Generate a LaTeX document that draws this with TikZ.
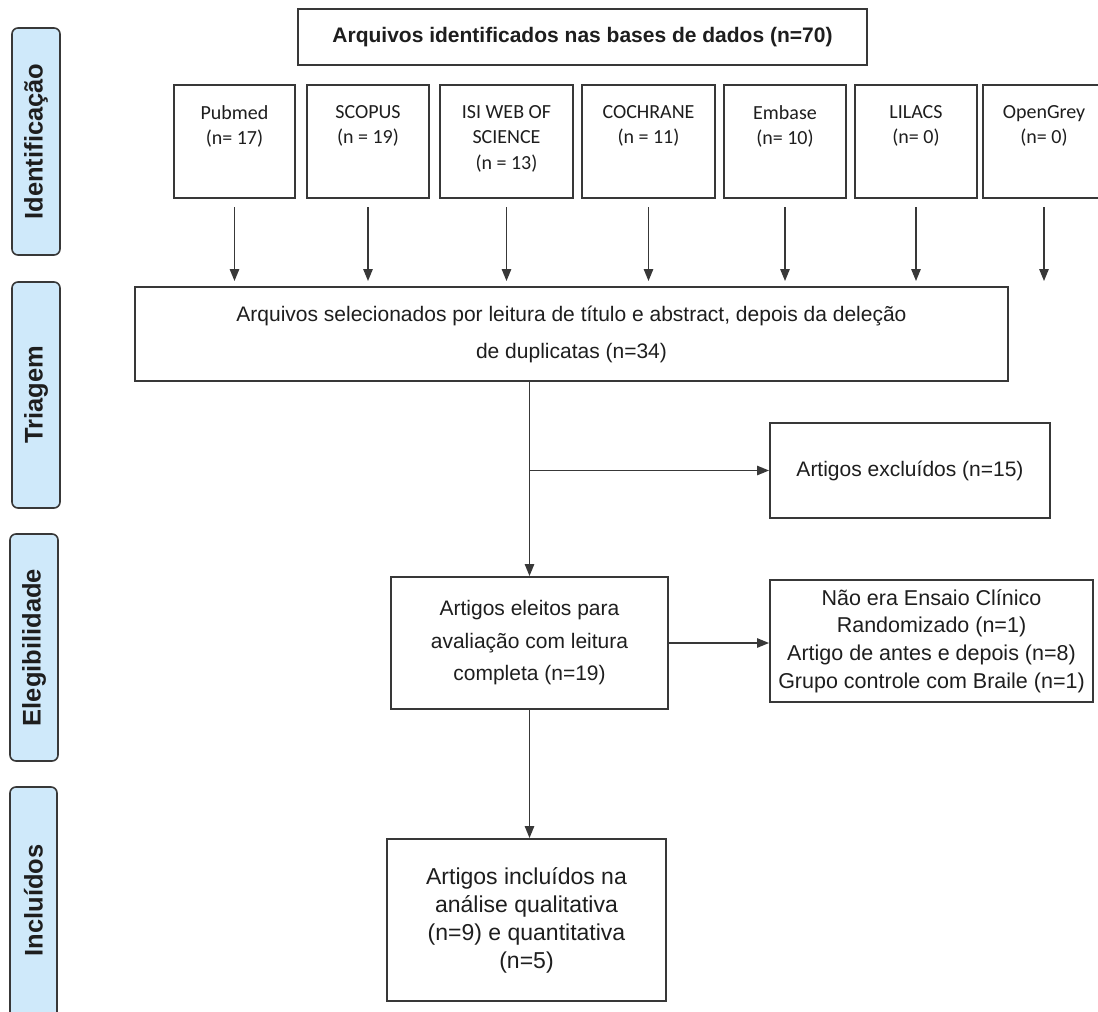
\documentclass[tikz,border=0pt]{standalone}
\usepackage{fontspec}
\setmainfont{Liberation Sans}
\newfontfamily\calib{Carlito}
\usetikzlibrary{arrows.meta}
\definecolor{edge}{HTML}{383838}
\definecolor{phasefill}{HTML}{CFE9FA}
\definecolor{ink}{HTML}{1E1E1E}
\begin{document}
\begin{tikzpicture}[x=1pt,y=-1pt,
  box/.style={draw=edge, line width=2pt, fill=white, inner sep=0pt, align=center, text=ink},
  phase/.style={draw=edge, line width=1.6pt, fill=phasefill, rounded corners=6pt, inner sep=0pt},
  phasetxt/.style={rotate=90, inner sep=0pt, font=\fontsize{25.5}{28}\selectfont\bfseries, text=ink},
  src/.style={draw=edge, line width=2pt, fill=white, inner sep=0pt, minimum height=113pt},
  srctxt/.style={anchor=north, align=center, inner sep=0pt, font=\calib\fontsize{20}{25.5}\selectfont, text=ink},
  arr/.style={draw=edge, line width=1.3pt, -{Triangle[length=12pt,width=9.5pt]}},
  maintxt/.style={font=\fontsize{21}{#1}\selectfont},
  maintxt/.default=25
]
\clip (0,0) rectangle (1098,1012);
\fill[white] (0,0) rectangle (1098,1012);

% phase labels
\node[phase, minimum width=48pt, minimum height=227pt] (pid) at (36,141.5) {};
\node[phasetxt] (pidT) at (pid.center) {Identificação};
\node[phase, minimum width=48pt, minimum height=226pt] (ptr) at (36,395) {};
\node[phasetxt] (ptrT) at (ptr.center) {Triagem};
\node[phase, minimum width=48pt, minimum height=227pt] (pel) at (34,647.5) {};
\node[phasetxt] (pelT) at (pel.center) {Elegibilidade};
\node[phase, minimum width=47pt, minimum height=233pt] (pin) at (33.5,903.5) {};
\node[phasetxt] (pinT) at ([yshift=3pt]pin.center) {Incluídos};

% title
\node[box, minimum width=569pt, minimum height=56pt, font=\bfseries\fontsize{21}{25}\selectfont] (title) at (582.5,37) {Arquivos identificados nas bases de dados (n=70)};

% sources
\node[src, minimum width=121pt] (pub) at (234.5,141.5) {};
\node[src, minimum width=122pt] (sco) at (368,141.5) {};
\node[src, minimum width=133pt] (isi) at (506.5,141.5) {};
\node[src, minimum width=133pt] (coc) at (648.5,141.5) {};
\node[src, minimum width=122pt] (emb) at (785,141.5) {};
\node[src, minimum width=122pt] (lil) at (916,141.5) {};
\node[src, minimum width=122pt] (ogr) at (1044,141.5) {};
\node[srctxt] (pubT) at ([yshift=-21pt]pub.north) {Pubmed\\(n= 17)};
\node[srctxt] (scoT) at ([yshift=-21pt]sco.north) {SCOPUS\\(n = 19)};
\node[srctxt] (isiT) at ([yshift=-21pt]isi.north) {ISI WEB OF\\SCIENCE\\(n = 13)};
\node[srctxt] (cocT) at ([yshift=-21pt]coc.north) {COCHRANE\\(n = 11)};
\node[srctxt] (embT) at ([yshift=-21pt]emb.north) {Embase\\(n= 10)};
\node[srctxt] (lilT) at ([yshift=-21pt]lil.north) {LILACS\\(n= 0)};
\node[srctxt] (ogrT) at ([yshift=-21pt]ogr.north) {OpenGrey\\(n= 0)};

% main flow
\node[box, maintxt=37, minimum width=873pt, minimum height=94pt] (tri) at (571.5,334) {Arquivos selecionados por leitura de título e abstract, depois da deleção\\de duplicatas (n=34)};
\node[box, maintxt, minimum width=280pt, minimum height=95pt] (excl) at (910,470.5) {Artigos excluídos (n=15)};
\node[box, maintxt=32.5, minimum width=277pt, minimum height=132pt] (elig) at (529.5,643) {Artigos eleitos para\\avaliação com leitura\\completa (n=19)};
\node[box, font=\fontsize{21.5}{27.7}\selectfont, minimum width=323pt, minimum height=122pt] (rbox) at (931.5,641) {Não era Ensaio Clínico\\Randomizado (n=1)\\Artigo de antes e depois (n=8)\\Grupo controle com Braile (n=1)};
\node[box, font=\fontsize{23}{28}\selectfont, minimum width=279pt, minimum height=162pt] (incl) at (526.5,920) {Artigos incluídos na\\análise qualitativa\\(n=9) e quantitativa\\(n=5)};

% connectors
\foreach \s in {pub,sco,isi,coc,emb,lil,ogr}
  \draw[arr, shorten <=8pt, shorten >=5pt] (\s.south) -- (\s.south |- tri.north);
\draw[arr] (elig.north |- tri.south) -- (elig.north);
\coordinate (br) at (elig.north |- excl.west);
\draw[arr] (br) -- (excl.west);
\draw[arr] (elig.east) -- (elig.east -| rbox.west);
\draw[arr] (elig.south) -- (elig.south |- incl.north);
\end{tikzpicture}
\end{document}
